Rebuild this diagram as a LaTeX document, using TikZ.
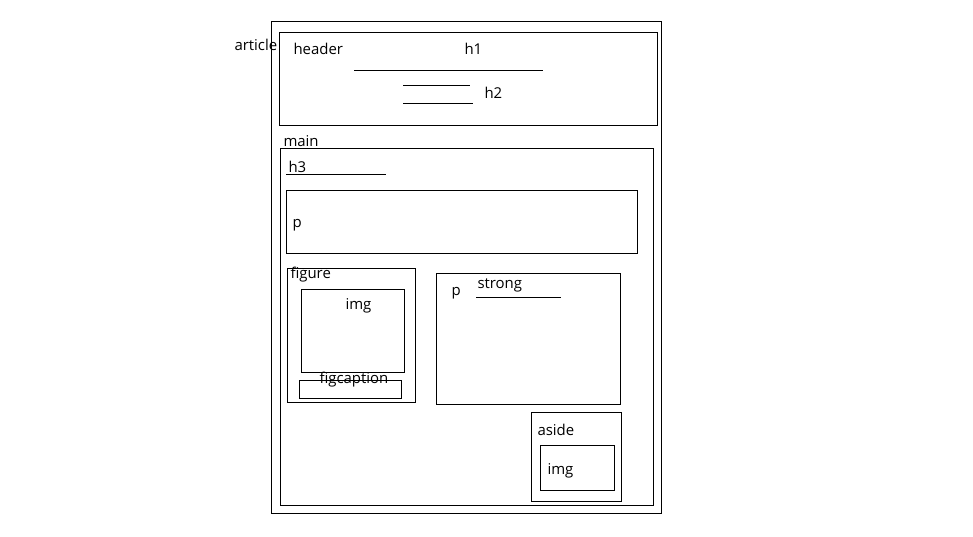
\documentclass[tikz,border=0pt]{standalone}
\usepackage{fontspec}
\setmainfont{Open Sans}
\usepackage{tikz}
\usetikzlibrary{positioning, calc}

\tikzset{
    tag/.style={anchor=base west, inner sep=0pt, font=\fontsize{11.25}{13}\selectfont},
    box/.style={draw, line width=0.75pt},
}

\begin{document}
\begin{tikzpicture}[x=0.02646cm, y=-0.02646cm, line width=0.75pt]
            \useasboundingbox (0,0) rectangle (973,536);
            % outer boxes
            \draw[box] (271,21) rectangle (661,513);
            \draw[box] (279,32) rectangle (657,125);
            \draw[box] (280,148) rectangle (653,505);
            % header content
            \node[tag] (article) at (234,50) {article};
            \node[tag] (header) at (293,54) {header};
            \node[tag] (h1) at (464,54) {h1};
            \node[tag] (h2) at (484,98) {h2};
            \draw (354,70) -- (543,70);
            \draw (403,85) -- (470,85);
            \draw (403,103) -- (473,103);
            % main content
            \node[tag] (main) at (283,146) {main};
            \node[tag] (h3) at (288,172) {h3};
            \draw (286,174) -- (386,174);
            \draw[box] (286,190) rectangle (637,253);
            \node[tag] (para) at (292,227) {p};
            % figure
            \draw[box] (287,268) rectangle (415,402);
            \node[tag] (figure) at (290,278) {figure};
            \draw[box] (301,289) rectangle (404,372);
            \node[tag] (figimg) at (345,309) {img};
            \draw[box] (299,380) rectangle (401,398);
            \node[tag] (figcaption) at (319,383) {figcaption};
            % second paragraph
            \draw[box] (436,273) rectangle (620,404);
            \node[tag] (parb) at (451,295) {p};
            \node[tag] (strong) at (477,288) {strong};
            \draw (476,297) -- (561,297);
            % aside
            \draw[box] (531,412) rectangle (621,501);
            \node[tag] (aside) at (537,435) {aside};
            \draw[box] (540,445) rectangle (614,490);
            \node[tag] (asideimg) at (547,474) {img};
        \end{tikzpicture}
\end{document}
